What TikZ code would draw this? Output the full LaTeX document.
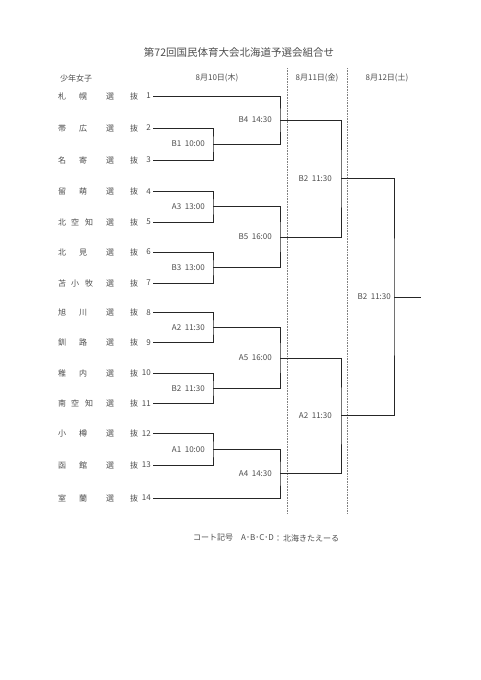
\documentclass[tikz,border=0pt]{standalone}
\usepackage{fontspec}
\setmainfont{Noto Sans CJK JP}
\tikzset{
  txt/.style={font=\fontsize{8}{9}\selectfont, text=black!70, inner sep=0pt},
  num/.style={txt, anchor=east, inner xsep=2pt},
  match/.style={txt, anchor=east},
  wire/.style={line width=0.8pt, draw=black!85},
  daybar/.style={densely dotted, draw=black!50, line width=0.6pt}
}
\newcommand\fourname[2]{#1\hspace{13pt}#2\hspace{19pt}選\hspace{16pt}抜}
\newcommand\fivename[3]{#1\hspace{5pt}#2\hspace{6pt}#3\hspace{13pt}選\hspace{16pt}抜}
\begin{document}
\begin{tikzpicture}[x=1pt,y=-1pt]
\useasboundingbox (0,0) rectangle (481,680);
% title and headers
\node[txt, font=\fontsize{10.5}{12}\selectfont] (title) at (239,52) {第72回国民体育大会北海道予選会組合せ};
\node[txt, anchor=west] (cat) at (60,78) {少年女子};
\node[txt] (day1) at (217,78) {8月10日(木)};
\node[txt] (day2) at (317,78) {8月11日(金)};
\node[txt] (day3) at (387,78) {8月12日(土)};
% day separators
\coordinate (s1top) at (287,68);
\coordinate (s1bot) at (287,513);
\coordinate (s2top) at (347,68);
\coordinate (s2bot) at (347,513);
\draw[daybar] (s1top) -- (s1bot);
\draw[daybar] (s2top) -- (s2bot);
% teams
\node[txt, anchor=west] (nm1) at (58,96) {\fourname{札}{幌}};
\node[num] (n1) at (153,96) {1};
\node[txt, anchor=west] (nm2) at (58,128) {\fourname{帯}{広}};
\node[num] (n2) at (153,128) {2};
\node[txt, anchor=west] (nm3) at (58,160) {\fourname{名}{寄}};
\node[num] (n3) at (153,160) {3};
\node[txt, anchor=west] (nm4) at (58,191.5) {\fourname{留}{萌}};
\node[num] (n4) at (153,191.5) {4};
\node[txt, anchor=west] (nm5) at (58,222) {\fivename{北}{空}{知}};
\node[num] (n5) at (153,222) {5};
\node[txt, anchor=west] (nm6) at (58,252) {\fourname{北}{見}};
\node[num] (n6) at (153,252) {6};
\node[txt, anchor=west] (nm7) at (58,283) {\fivename{苫}{小}{牧}};
\node[num] (n7) at (153,283) {7};
\node[txt, anchor=west] (nm8) at (58,312.5) {\fourname{旭}{川}};
\node[num] (n8) at (153,312.5) {8};
\node[txt, anchor=west] (nm9) at (58,342.5) {\fourname{釧}{路}};
\node[num] (n9) at (153,342.5) {9};
\node[txt, anchor=west] (nm10) at (58,373) {\fourname{稚}{内}};
\node[num] (n10) at (153,373) {10};
\node[txt, anchor=west] (nm11) at (58,403.5) {\fivename{南}{空}{知}};
\node[num] (n11) at (153,403.5) {11};
\node[txt, anchor=west] (nm12) at (58,433.5) {\fourname{小}{樽}};
\node[num] (n12) at (153,433.5) {12};
\node[txt, anchor=west] (nm13) at (58,465) {\fourname{函}{館}};
\node[num] (n13) at (153,465) {13};
\node[txt, anchor=west] (nm14) at (58,498) {\fourname{室}{蘭}};
\node[num] (n14) at (153,498) {14};
% 8/10 first round
\coordinate (r1b1) at (213,144);
\coordinate (r1a3) at (213,206.75);
\coordinate (r1b3) at (213,267.5);
\coordinate (r1a2) at (213,327.5);
\coordinate (r1b2) at (213,388.25);
\coordinate (r1a1) at (213,449.25);
\draw[wire] (n2.east) -| (r1b1) |- (n3.east);
\draw[wire] (n4.east) -| (r1a3) |- (n5.east);
\draw[wire] (n6.east) -| (r1b3) |- (n7.east);
\draw[wire] (n8.east) -| (r1a2) |- (n9.east);
\draw[wire] (n10.east) -| (r1b2) |- (n11.east);
\draw[wire] (n12.east) -| (r1a1) |- (n13.east);
\node[match] (lr1b1) at ([xshift=-8pt]r1b1) {B1~~10:00};
\node[match] (lr1a3) at ([xshift=-8pt]r1a3) {A3~~13:00};
\node[match] (lr1b3) at ([xshift=-8pt]r1b3) {B3~~13:00};
\node[match] (lr1a2) at ([xshift=-8pt]r1a2) {A2~~11:30};
\node[match] (lr1b2) at ([xshift=-8pt]r1b2) {B2~~11:30};
\node[match] (lr1a1) at ([xshift=-8pt]r1a1) {A1~~10:00};
% 8/10 second round
\coordinate (r2b4) at (280,120);
\coordinate (r2b5) at (280,237);
\coordinate (r2a5) at (280,358);
\coordinate (r2a4) at (280,473.5);
\draw[wire] (n1.east) -| (r2b4) |- (r1b1);
\draw[wire] (r1a3) -| (r2b5) |- (r1b3);
\draw[wire] (r1a2) -| (r2a5) |- (r1b2);
\draw[wire] (r1a1) -| (r2a4) |- (n14.east);
\node[match] (lr2b4) at ([xshift=-8pt]r2b4) {B4~~14:30};
\node[match] (lr2b5) at ([xshift=-8pt]r2b5) {B5~~16:00};
\node[match] (lr2a5) at ([xshift=-8pt]r2a5) {A5~~16:00};
\node[match] (lr2a4) at ([xshift=-8pt]r2a4) {A4~~14:30};
% 8/11
\coordinate (r3b2) at (341,178.5);
\coordinate (r3a2) at (341,415.75);
\draw[wire] (r2b4) -| (r3b2) |- (r2b5);
\draw[wire] (r2a5) -| (r3a2) |- (r2a4);
\node[match] (lr3b2) at ([xshift=-9pt]r3b2) {B2~~11:30};
\node[match] (lr3a2) at ([xshift=-9pt]r3a2) {A2~~11:30};
% 8/12
\coordinate (r4b2) at (394,297);
\coordinate (champ) at (421,297);
\draw[wire] (r3b2) -| (r4b2) |- (r3a2);
\draw[wire] (r4b2) -- (champ);
\node[match] (lr4b2) at ([xshift=-3pt]r4b2) {B2~~11:30};
% footer
\node[txt, anchor=west] (court) at (193,538) {コート記号};
\node[txt, anchor=west] (courts) at (241,538) {A･B･C･D};
\node[txt, anchor=west] (venue) at (274,538) {：\hspace{1pt}北海きたえーる};
\end{tikzpicture}
\end{document}
